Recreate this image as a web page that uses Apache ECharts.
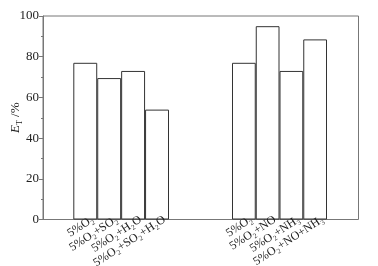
<!DOCTYPE html>
<html><head><meta charset="utf-8">
<script src="https://cdn.jsdelivr.net/npm/echarts@6/dist/echarts.min.js"></script>
<style>html,body{margin:0;padding:0;background:#fff}#c{width:378px;height:266px}</style>
</head><body><div id="c"></div>
<script>
// Data
const groupACategories = ['5%O₂', '5%O₂+SO₂', '5%O₂+H₂O', '5%O₂+SO₂+H₂O'];
const groupAValues = [77, 69.5, 73, 54];
const groupBCategories = ['5%O₂', '5%O₂+NO', '5%O₂+NH₃', '5%O₂+NO+NH₃'];
const groupBValues = [77, 95, 73, 88.5];
const yTicks = [0, 20, 40, 60, 80, 100];

const FONT = '"Liberation Serif", "DejaVu Serif", serif';
const gTop = 16, gBottom = 46.5;
const barStyle = {color: '#fff', borderColor: '#333', borderWidth: 1};
function catAxis(gi, cats) {
  return {
    type: 'category', gridIndex: gi, data: cats, z: 10,
    axisLine: {show: false}, axisTick: {show: false},
    axisLabel: {rotate: 33, margin: 4, interval: 0, fontFamily: FONT, fontSize: 12, color: '#222',
      padding: [0, -9, 0, 0]}
  };
}
const chart = echarts.init(document.getElementById('c'));
chart.setOption({
  animation: false,
  grid: [
    {left: 43, right: 19.5, top: gTop, bottom: gBottom, show: true, borderColor: '#777', borderWidth: 1, backgroundColor: 'transparent', outerBoundsMode: 'none'},
    {left: 73.3, width: 95.7, top: gTop, bottom: gBottom, outerBoundsMode: 'none'},
    {left: 232, width: 95, top: gTop, bottom: gBottom, outerBoundsMode: 'none'}
  ],
  xAxis: [
    {type: 'value', gridIndex: 0, show: false, min: 0, max: 1},
    catAxis(1, groupACategories),
    catAxis(2, groupBCategories)
  ],
  yAxis: [
    {
      type: 'value', gridIndex: 0, min: yTicks[0], max: yTicks[yTicks.length - 1], interval: 20,
      axisLine: {show: true, lineStyle: {color: '#777'}},
      axisTick: {show: true, length: 4, lineStyle: {color: '#777'}},
      minorTick: {show: true, splitNumber: 2, length: 2, lineStyle: {color: '#777'}},
      splitLine: {show: false},
      axisLabel: {fontFamily: FONT, fontSize: 13, color: '#222', margin: 4},
      name: '{i|E}{s|T}{m| /%}', nameLocation: 'middle', nameGap: 19, nameRotate: 90,
      nameMoveOverlap: false,
      nameTextStyle: {
        rich: {
          i: {fontFamily: FONT, fontStyle: 'italic', fontSize: 13, color: '#222'},
          m: {fontFamily: FONT, fontSize: 13, color: '#222'},
          s: {fontFamily: FONT, fontSize: 8, color: '#222', padding: [8, 0, 0, 0]}
        }
      }
    },
    {type: 'value', gridIndex: 1, show: false, min: 0, max: 100},
    {type: 'value', gridIndex: 2, show: false, min: 0, max: 100}
  ],
  series: [
    {type: 'bar', xAxisIndex: 1, yAxisIndex: 1, data: groupAValues, barCategoryGap: 0, itemStyle: barStyle},
    {type: 'bar', xAxisIndex: 2, yAxisIndex: 2, data: groupBValues, barCategoryGap: 0, itemStyle: barStyle}
  ]
});
</script></body></html>
